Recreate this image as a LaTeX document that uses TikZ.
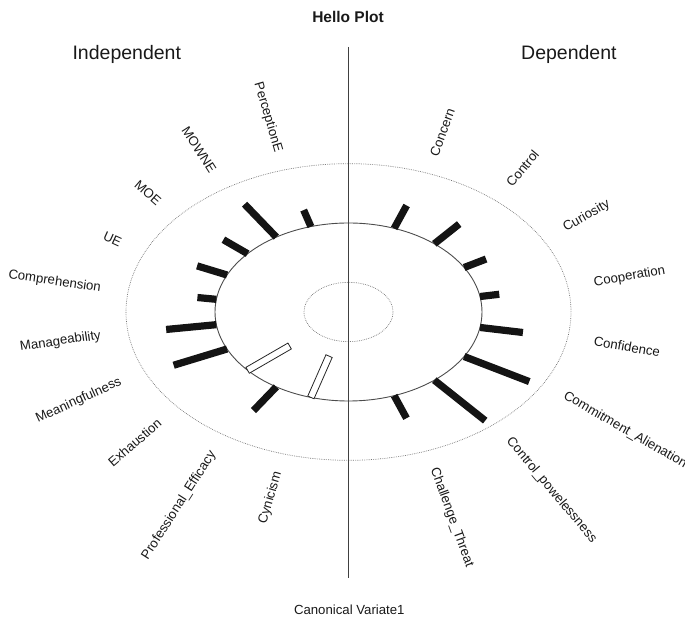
\documentclass[tikz,border=0pt]{standalone}
\usepackage{fontspec}
\setmainfont{Liberation Sans}
\usetikzlibrary{calc}
\begin{document}
\begin{tikzpicture}[x=1pt,y=1pt,
  lbl/.style={font=\fontsize{13.2}{15}\selectfont, inner sep=0pt, text=black!90},
  head/.style={font=\fontsize{19.5}{22}\selectfont, inner sep=0pt, text=black!90, anchor=base},
  dotring/.style={draw=black!55, line width=0.7pt, dash pattern=on 0.7pt off 1.1pt},
  ring/.style={draw=black!70, line width=0.9pt},
  axisline/.style={draw=black!75, line width=1.1pt},
  posbar/.style={fill=black!92},
  negbar/.style={fill=white, draw=black!85, line width=0.8pt}]
\useasboundingbox (-348.5,-305) rectangle (336.5,312);

% title, side headings and axis caption
\node[font=\fontsize{15.5}{18}\selectfont\bfseries, inner sep=0pt, anchor=base, text=black!90] (title) at (-0.5,289.3) {Hello Plot};
\node[head] (indep) at (-221.7,252.7) {Independent};
\node[head] (dep) at (220.4,252.7) {Dependent};
\node[font=\fontsize{13.2}{15}\selectfont, inner sep=0pt, anchor=base, text=black!90] (cv) at (0.8,-303) {Canonical Variate1};

% reference rings (radius 1, 3 and 5 in plot units)
\coordinate (c) at (0,0);
\draw[dotring] (c) ellipse [x radius=222.5pt, y radius=148.35pt];
\draw[dotring] (c) ellipse [x radius=44.5pt, y radius=29.67pt];
\draw[ring] (c) ellipse [x radius=133.5pt, y radius=89pt];

% vertical divider between the two variable sets
\coordinate (vtop) at (0,265);
\coordinate (vbot) at (0,-266);
\draw[axisline] (vtop) -- (vbot);

\begin{scope}[x=44.5pt,y=29.67pt]
  % positive loadings: filled bars outward from the radius-3 ring
  \foreach \n/\a/\r in {pe/106.36/3.58, mo/122.73/4.32, moe/139.09/3.72,
      ue/155.45/3.74, co/171.82/3.43, ma/188.18/4.14, me/204.55/4.32,
      pf/237.27/3.95,
      cn/70/3.82, ct/50/3.87, cu/30/3.57, cp/10/3.44, cf/-10/3.98,
      ca/-30/4.69, cpw/-50/4.78, cht/-70/3.81}{
    \coordinate (\n-b) at (\a:3);
    \coordinate (\n-e) at (\a:\r);
    \fill[posbar] ($(\n-b)!3.6pt!90:(\n-e)$) -- ($(\n-b)!3.6pt!-90:(\n-e)$)
      -- ($(\n-e)!3.6pt!90:(\n-b)$) -- ($(\n-e)!3.6pt!-90:(\n-b)$) -- cycle;
  }
  % negative loadings: open bars inward
  \foreach \n/\a/\r in {ex/220.91/1.75, cy/253.64/1.55}{
    \coordinate (\n-b) at (\a:3);
    \coordinate (\n-e) at (\a:\r);
    \filldraw[negbar] ($(\n-b)!3.4pt!90:(\n-e)$) -- ($(\n-b)!3.4pt!-90:(\n-e)$)
      -- ($(\n-e)!3.4pt!90:(\n-b)$) -- ($(\n-e)!3.4pt!-90:(\n-b)$) -- cycle;
  }

  % variable names, left set
  \foreach \n/\a/\t in {pe/106.36/PerceptionE, mo/122.73/MOWNE, moe/139.09/MOE,
      ue/155.45/UE, co/171.82/Comprehension, ma/188.18/Manageability,
      me/204.55/Meaningfulness, ex/220.91/Exhaustion,
      pf/237.27/{Professional\_Efficacy}, cy/253.64/Cynicism}{
    \node[lbl, anchor=east, rotate=\a-180] (\n-l) at (\a:5.62) {\t};
  }
  % variable names, right set
  \foreach \n/\a/\t in {cn/70/Concern, ct/50/Control, cu/30/Curiosity,
      cp/10/Cooperation, cf/-10/Confidence, ca/-30/{Commitment\_Alienation},
      cpw/-50/{Control\_powelessness}, cht/-70/{Challenge\_Threat}}{
    \node[lbl, anchor=west, rotate=\a] (\n-l) at (\a:5.6) {\t};
  }
\end{scope}
\end{tikzpicture}
\end{document}
